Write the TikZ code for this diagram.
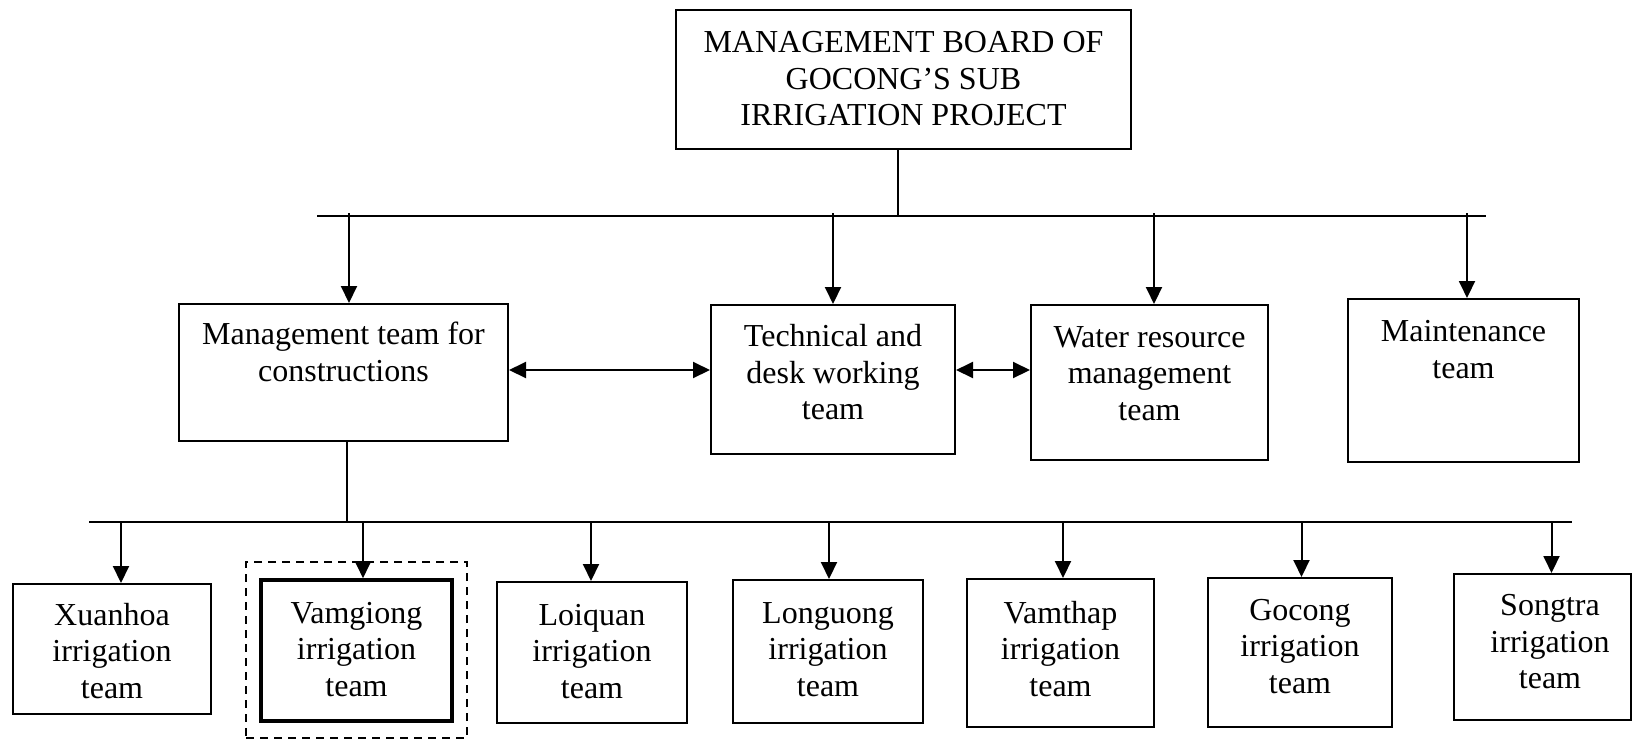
\documentclass[tikz,border=0pt]{standalone}
\usepackage{fontspec}
\setmainfont{Liberation Serif}
\usetikzlibrary{arrows.meta,fit}
\begin{document}
\begin{tikzpicture}[x=0.5pt,y=-0.5pt,
  box/.style={draw,line width=1pt,inner sep=0pt},
  txt/.style={inner sep=0pt,align=center,font=\fontsize{16}{18.25}\selectfont},
  arr/.style={-{Triangle[length=8.5pt,width=8pt]},line width=1pt},
  darr/.style={{Triangle[length=8.5pt,width=8pt]}-{Triangle[length=8.5pt,width=8pt]},line width=1pt},
  bus/.style={line width=1pt}]
\useasboundingbox (0,0) rectangle (1632,740);

% top box
\node[box,fit={(676,10)(1131,149)}] (top) {};
\node[txt] (topt) at ([yshift=0.3pt]top.center) {MANAGEMENT BOARD OF\\GOCONG'S SUB\\IRRIGATION PROJECT};

% level 2 boxes
\node[box,fit={(179,304)(508,441)}] (mg) {};
\node[box,fit={(711,305)(955,454)}] (tech) {};
\node[box,fit={(1031,305)(1268,460)}] (wat) {};
\node[box,fit={(1348,299)(1579,462)}] (mai) {};
\node[txt,anchor=north] (mgt) at (343.5,322) {Management team for\\constructions};
\node[txt,anchor=north] (techt) at (833,324) {Technical and\\desk working\\team};
\node[txt,anchor=north] (watt) at (1149.5,326) {Water resource\\management\\team};
\node[txt,anchor=north] (mait) at (1463.5,320) {Maintenance\\team};

% level 3 boxes
\node[box,fit={(13,584)(211,714)}] (xu) {};
\node[box,line width=1.8pt,fit={(261,580)(452,721)}] (va) {};
\node[draw,line width=0.9pt,dash pattern=on 4pt off 3pt,inner sep=0pt,fit={(246,562)(467,738)}] (vad) {};
\node[box,fit={(497,582)(687,723)}] (lo) {};
\node[box,fit={(733,580)(923,723)}] (ln) {};
\node[box,fit={(967,579)(1154,727)}] (vt) {};
\node[box,fit={(1208,578)(1392,727)}] (gc) {};
\node[box,fit={(1454,574)(1631,720)}] (st) {};
\node[txt] (xut) at ([yshift=-1pt]xu.center) {Xuanhoa\\irrigation\\team};
\node[txt] (vat) at ([yshift=0.5pt]va.center) {Vamgiong\\irrigation\\team};
\node[txt] (lot) at ([yshift=0.5pt]lo.center) {Loiquan\\irrigation\\team};
\node[txt] (lnt) at ([yshift=1pt]ln.center) {Longuong\\irrigation\\team};
\node[txt] (vtt) at ([yshift=2.1pt]vt.center) {Vamthap\\irrigation\\team};
\node[txt] (gct) at ([yshift=3.1pt]gc.center) {Gocong\\irrigation\\team};
\node[txt] (stt) at ([xshift=3.75pt,yshift=2.6pt]st.center) {Songtra\\irrigation\\team};

% bus 1
\coordinate (b1L) at (317,215.5);
\coordinate (b1R) at (1486,215.5);
\draw[bus] (b1L) -- (b1R);
\coordinate (t1) at (898,215.5);
\draw[bus] (t1 |- top.south) -- (t1);
\coordinate (b1a) at (349,213);
\coordinate (b1b) at (833,213);
\coordinate (b1c) at (1154,213);
\coordinate (b1d) at (1467,213);
\draw[arr] (b1a) -- (b1a |- mg.north);
\draw[arr] (b1b) -- (b1b |- tech.north);
\draw[arr] (b1c) -- (b1c |- wat.north);
\draw[arr] (b1d) -- (b1d |- mai.north);

% horizontal double arrows
\coordinate (r1) at (600,370);
\draw[darr] (mg.east |- r1) -- (tech.west |- r1);
\draw[darr] (tech.east |- r1) -- (wat.west |- r1);

% bus 2
\coordinate (b2L) at (89,522);
\coordinate (b2R) at (1572,522);
\draw[bus] (b2L) -- (b2R);
\coordinate (b2m) at (347,522);
\draw[bus] (b2m |- mg.south) -- (b2m);
\coordinate (c1) at (121,522);
\coordinate (c2) at (363,522);
\coordinate (c3) at (591,522);
\coordinate (c4) at (829,522);
\coordinate (c5) at (1063,522);
\coordinate (c6) at (1301.5,522);
\coordinate (c7) at (1551.5,522);
\draw[arr] (c1) -- (c1 |- xu.north);
\draw[arr] (c2) -- (c2 |- va.north);
\draw[arr] (c3) -- (c3 |- lo.north);
\draw[arr] (c4) -- (c4 |- ln.north);
\draw[arr] (c5) -- (c5 |- vt.north);
\draw[arr] (c6) -- (c6 |- gc.north);
\draw[arr] (c7) -- (c7 |- st.north);
\end{tikzpicture}
\end{document}
